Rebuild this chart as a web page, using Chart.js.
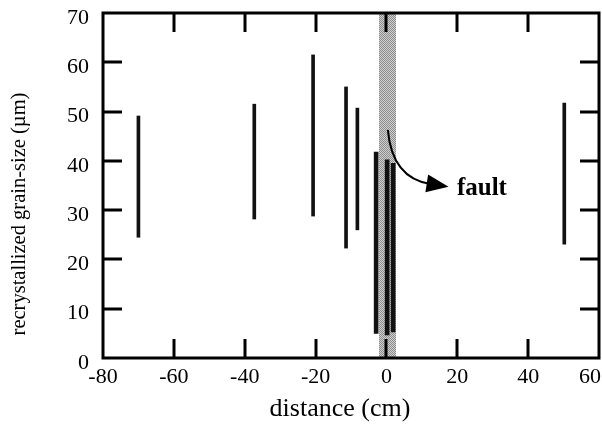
<!DOCTYPE html>
<html>
<head>
<meta charset="utf-8">
<script src="https://cdn.jsdelivr.net/npm/chart.js@4.4.1/dist/chart.umd.min.js"></script>
<style>
  html, body { margin: 0; padding: 0; background: #fff; }
  canvas { display: block; }
</style>
</head>
<body>
<canvas id="grainChart" width="602" height="436"></canvas>
<script>
/* ================== DATA ================== */
// sample positions across the fault (cm) and grain-size ranges (um)
const distances = [-70, -37.3, -20.7, -11.4, -8.2, -2.9, 0.2, 1.9, 50.2];
const minGrain  = [24.5, 28.2, 28.8, 22.3, 26.0, 5.0, 4.7, 5.3, 23.1];
const maxGrain  = [49.1, 51.5, 61.5, 55.0, 50.7, 41.8, 40.2, 39.5, 51.7];
const nearFault = [false, false, false, false, false, true, true, true, false];

const xTicks = [-80, -60, -40, -20, 0, 20, 40, 60];
const yTicks = [0, 10, 20, 30, 40, 50, 60, 70];

const faultZone = [-2.1, 2.7];          // shaded fault band (cm)
const faultLabel = "fault";
const xTitle = "distance (cm)";
const yTitle = "recrystallized grain-size (\u00b5m)";

/* ================== HELPERS ================== */
const SERIF = '"Liberation Serif", "DejaVu Serif", serif';

function rangePoints(keep) {
  const pts = [];
  distances.forEach((d, i) => {
    if (nearFault[i] === keep) pts.push({ x: d, y: [minGrain[i], maxGrain[i]] });
  });
  return pts;
}

function stipple(ctx) {
  const c = document.createElement("canvas");
  c.width = 2; c.height = 2;
  const p = c.getContext("2d");
  p.fillStyle = "#d0d0d0"; p.fillRect(0, 0, 2, 2);
  p.fillStyle = "#8c8c8c"; p.fillRect(0, 0, 1, 1); p.fillRect(1, 1, 1, 1);
  return ctx.createPattern(c, "repeat");
}

/* ================== PLUGINS ================== */
const faultBand = {
  id: "faultBand",
  beforeDatasetsDraw(chart) {
    const { ctx, chartArea: a, scales: { x } } = chart;
    const x0 = x.getPixelForValue(faultZone[0]);
    const x1 = x.getPixelForValue(faultZone[1]);
    ctx.save();
    ctx.fillStyle = stipple(ctx);
    ctx.fillRect(x0, a.top, x1 - x0, a.bottom - a.top);
    ctx.restore();
  }
};

const frameAndNotes = {
  id: "frameAndNotes",
  afterDatasetsDraw(chart) {
    const { ctx, chartArea: a, scales: { x, y } } = chart;
    ctx.save();
    ctx.strokeStyle = "#000";
    ctx.lineWidth = 3;
    ctx.strokeRect(a.left, a.top, a.right - a.left, a.bottom - a.top);

    // inward ticks on all four sides
    const len = 19;
    ctx.beginPath();
    xTicks.slice(1, -1).forEach(v => {
      const px = Math.round(x.getPixelForValue(v));
      ctx.moveTo(px, a.bottom); ctx.lineTo(px, a.bottom - len);
      ctx.moveTo(px, a.top); ctx.lineTo(px, a.top + len);
    });
    yTicks.slice(1, -1).forEach(v => {
      const py = Math.round(y.getPixelForValue(v));
      ctx.moveTo(a.left, py); ctx.lineTo(a.left + len, py);
      ctx.moveTo(a.right, py); ctx.lineTo(a.right - len, py);
    });
    ctx.stroke();

    // x tick labels, kept inside the canvas at the right end
    ctx.fillStyle = "#000";
    ctx.font = `22px ${SERIF}`;
    ctx.textAlign = "center";
    ctx.textBaseline = "middle";
    xTicks.forEach(v => {
      const label = String(v);
      const w = ctx.measureText(label).width;
      const px = Math.min(x.getPixelForValue(v), chart.width - w / 2 - 1);
      ctx.fillText(label, px, a.bottom + 19);
    });

    // x axis title
    ctx.font = `26px ${SERIF}`;
    ctx.fillText(xTitle, 340, 409);

    // curved arrow pointing out of the fault band
    const sx = x.getPixelForValue(0.4), sy = y.getPixelForValue(46.3);
    const cx = x.getPixelForValue(1.6), cy = y.getPixelForValue(36.5);
    const ex = x.getPixelForValue(12.5), ey = y.getPixelForValue(35.3);
    ctx.lineWidth = 2;
    ctx.beginPath();
    ctx.moveTo(sx, sy);
    ctx.quadraticCurveTo(cx, cy, ex, ey);
    ctx.stroke();

    const ang = Math.atan2(ey - cy, ex - cx);
    const hl = 22, hw = 9;
    const tx = ex + Math.cos(ang) * (hl - 4), ty = ey + Math.sin(ang) * (hl - 4);
    const bx = tx - Math.cos(ang) * hl, by = ty - Math.sin(ang) * hl;
    ctx.beginPath();
    ctx.moveTo(tx, ty);
    ctx.lineTo(bx + Math.sin(ang) * hw, by - Math.cos(ang) * hw);
    ctx.lineTo(bx - Math.sin(ang) * hw, by + Math.cos(ang) * hw);
    ctx.closePath();
    ctx.fill();

    ctx.font = `bold 25px ${SERIF}`;
    ctx.textAlign = "left";
    ctx.textBaseline = "alphabetic";
    ctx.fillText(faultLabel, x.getPixelForValue(19.9), y.getPixelForValue(33.1));

    // y axis title, rotated, sitting a little below the axis centre
    ctx.translate(20, 214);
    ctx.rotate(-Math.PI / 2);
    ctx.font = `20.5px ${SERIF}`;
    ctx.textAlign = "center";
    ctx.textBaseline = "middle";
    ctx.fillText(yTitle, 0, 0);
    ctx.restore();
  }
};

/* ================== CHART ================== */
new Chart(document.getElementById("grainChart"), {
  type: "bar",
  data: {
    datasets: [
      {
        label: "grain-size range",
        data: rangePoints(false),
        backgroundColor: "#111",
        barThickness: 3,
        grouped: false
      },
      {
        label: "grain-size range (fault)",
        data: rangePoints(true),
        backgroundColor: "#111",
        barThickness: 4,
        grouped: false
      }
    ]
  },
  options: {
    responsive: false,
    animation: false,
    layout: { padding: { top: 13, right: 3, left: 0, bottom: 0 } },
    plugins: { legend: { display: false }, tooltip: { enabled: false } },
    scales: {
      x: {
        type: "linear",
        min: -80,
        max: 60,
        offset: false,
        grid: { display: false, drawTicks: false, offset: false },
        border: { display: false },
        afterBuildTicks: s => { s.ticks = xTicks.map(v => ({ value: v })); },
        ticks: { display: false },
        title: { display: false },
        afterFit: s => { s.height = 78; s.paddingLeft = 0; s.paddingRight = 0; }
      },
      y: {
        min: 0,
        max: 70,
        grid: { display: false, drawTicks: false },
        border: { display: false },
        afterBuildTicks: s => { s.ticks = yTicks.map(v => ({ value: v })); },
        ticks: { color: "#000", padding: 14, labelOffset: 5, font: { family: SERIF, size: 22 } },
        title: { display: false },
        afterFit: s => { s.width = 103; s.paddingTop = 0; s.paddingBottom = 0; }
      }
    }
  },
  plugins: [faultBand, frameAndNotes]
});
</script>
</body>
</html>
